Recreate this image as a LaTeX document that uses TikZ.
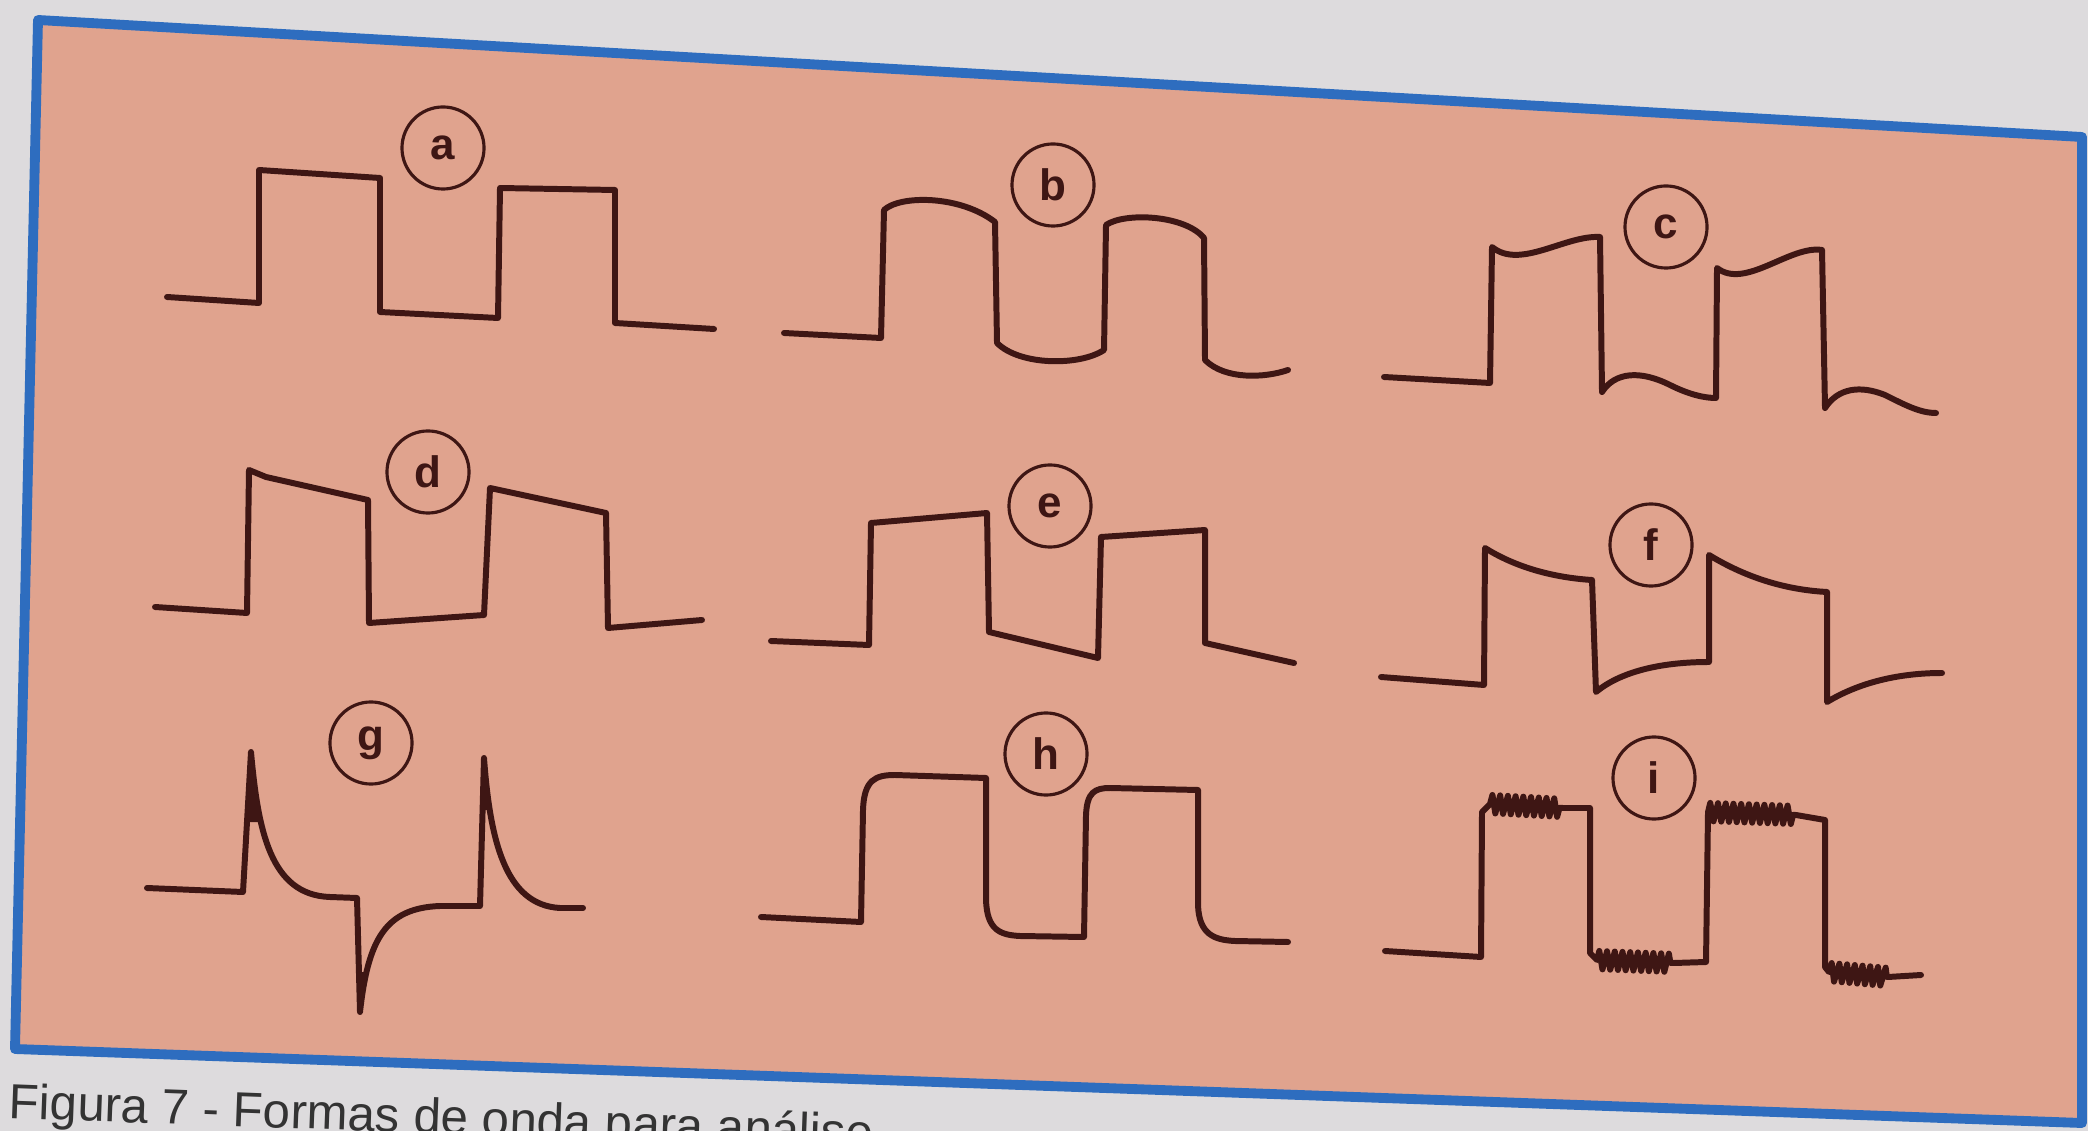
\documentclass[tikz,border=0pt]{standalone}
\usepackage{fontspec}
\setmainfont{Liberation Sans}
\usepackage{tikz}
\usetikzlibrary{decorations.pathmorphing}
\definecolor{paper}{HTML}{DDDBDD}
\definecolor{card}{HTML}{E0A38E}
\definecolor{rim}{HTML}{2E6DBF}
\definecolor{ink}{HTML}{3E1614}
\tikzset{
    wave/.style={draw=ink, line width=1.7pt, line join=round, line cap=round},
    tag/.style={circle, draw=ink, line width=0.9pt, minimum size=0.82cm, inner sep=0pt,
                text=ink, font=\bfseries\fontsize{12.5}{12.5}\selectfont},
    noise/.style={decoration={zigzag, segment length=2.2pt, amplitude=2.6pt}}
}

\begin{document}
\begin{tikzpicture}[x=0.01cm, y=-0.01cm]
  \useasboundingbox (0,0) rectangle (2088,1131);
  \fill[paper] (0,0) rectangle (2088,1131);
  \filldraw[fill=card, draw=rim, line width=2.8pt, line join=round]
    (38,20) -- (2082,137) -- (2082,1123) -- (15,1049) -- cycle;
  \node[anchor=base west, rotate=-2.1, inner sep=0pt, text=black!80, font=\fontsize{14}{14}\selectfont]
    (cap) at (8,1118) {Figura 7 - Formas de onda para análise};

  % first row
  \node[tag] (ta) at (443,148) {a};
  \draw[wave] (167,297) -- (259,303) -- (259,170) -- (380,178) -- (380,312) -- (498,318)
    -- (500,188) -- (615,190) -- (615,323) -- (714,329);

  \node[tag] (tb) at (1053,185) {b};
  \draw[wave] (784,333) -- (881,338) -- (884,210) .. controls (900,195) and (960,195) .. (995,222)
    -- (997,343) .. controls (1020,366) and (1080,366) .. (1104,350)
    -- (1106,225) .. controls (1125,212) and (1185,215) .. (1204,238)
    -- (1205,360) .. controls (1225,380) and (1265,378) .. (1288,370);

  \node[tag] (tc) at (1666,227) {c};
  \draw[wave] (1384,377) -- (1490,383) -- (1492,247) .. controls (1520,270) and (1565,235) .. (1600,237)
    -- (1602,392) .. controls (1615,372) and (1640,370) .. (1670,385) .. controls (1690,395) and (1705,398) .. (1716,398)
    -- (1717,268) .. controls (1745,290) and (1790,245) .. (1822,250)
    -- (1825,408) .. controls (1838,388) and (1860,385) .. (1885,395) .. controls (1905,405) and (1920,413) .. (1936,413);

  % second row
  \node[tag] (td) at (428,472) {d};
  \draw[wave] (155,607) -- (247,613) -- (249,470) -- (266,477) -- (368,500) -- (369,623) -- (484,615)
    -- (490,488) -- (606,513) -- (608,628) -- (702,620);

  \node[tag] (te) at (1050,506) {e};
  \draw[wave] (771,641) -- (869,645) -- (871,523) -- (987,513) -- (989,632) -- (1098,658)
    -- (1101,537) -- (1205,530) -- (1205,643) -- (1294,663);

  \node[tag] (tf) at (1651,545) {f};
  \draw[wave] (1381,677) -- (1484,685) -- (1485,548) .. controls (1520,570) and (1560,578) .. (1592,580)
    -- (1596,692) .. controls (1620,672) and (1660,662) .. (1709,662)
    -- (1709,555) .. controls (1750,580) and (1790,590) .. (1827,592)
    -- (1827,702) .. controls (1860,682) and (1900,673) .. (1942,673);

  % third row
  \node[tag] (tg) at (371,743) {g};
  \draw[wave] (147,888) -- (243,892) -- (251,752) .. controls (258,830) and (270,895) .. (330,897) -- (357,898)
    -- (360,1012) .. controls (368,940) and (385,908) .. (440,906) -- (480,906)
    -- (484,758) .. controls (490,840) and (505,905) .. (560,908) -- (583,908);
  \fill[ink] (247,822) -- (251,752) .. controls (254,780) and (256,800) .. (258,822) -- cycle;
  \fill[ink] (359,972) -- (360,1012) .. controls (362,995) and (364,982) .. (366,972) -- cycle;
  \fill[ink] (481,810) -- (484,758) .. controls (486,780) and (488,795) .. (490,810) -- cycle;

  \node[tag] (th) at (1046,754) {h};
  \draw[wave] (761,917) -- (861,922) -- (863,810) .. controls (864,780) and (875,775) .. (895,775) -- (986,778)
    -- (986,900) .. controls (987,930) and (1000,935) .. (1020,936) -- (1084,937)
    -- (1086,815) .. controls (1087,792) and (1095,788) .. (1110,788) -- (1198,790)
    -- (1198,905) .. controls (1199,935) and (1215,940) .. (1235,941) -- (1288,942);

  \node[tag] (ti) at (1654,778) {i};
  \draw[wave, noise] (1385,951) -- (1481,957) -- (1482,812) -- (1490,804) decorate {-- (1563,808)} -- (1590,808)
    -- (1590,953) -- (1597,960) decorate {-- (1674,963)} -- (1706,962)
    -- (1708,812) decorate {-- (1796,815)} -- (1825,820)
    -- (1825,967) -- (1829,972) decorate {-- (1888,977)} -- (1921,975);
\end{tikzpicture}
\end{document}
